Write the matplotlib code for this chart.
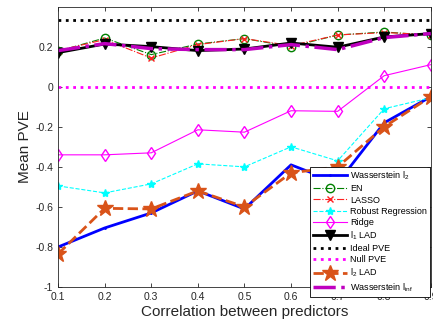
import matplotlib
matplotlib.use('Agg')
import matplotlib.pyplot as plt

plt.rcParams['font.family'] = ['Liberation Sans', 'DejaVu Sans']
plt.rcParams['mathtext.default'] = 'regular'

# Данные
corr = [0.1, 0.2, 0.3, 0.4, 0.5, 0.6, 0.7, 0.8, 0.9]
wass_l2 = [-0.80, -0.705, -0.63, -0.52, -0.61, -0.39, -0.48, -0.18, -0.05]
en = [0.177, 0.243, 0.16, 0.213, 0.24, 0.20, 0.258, 0.273, 0.257]
lasso = [0.18, 0.235, 0.143, 0.21, 0.24, 0.205, 0.258, 0.27, 0.26]
robust = [-0.495, -0.53, -0.485, -0.385, -0.40, -0.30, -0.37, -0.11, -0.055]
ridge = [-0.34, -0.34, -0.33, -0.215, -0.227, -0.12, -0.123, 0.055, 0.11]
l1_lad = [0.17, 0.213, 0.20, 0.18, 0.188, 0.218, 0.197, 0.248, 0.265]
ideal_pve = [0.333] * len(corr)
null_pve = [0.0] * len(corr)
l2_lad = [-0.835, -0.607, -0.61, -0.52, -0.60, -0.43, -0.40, -0.20, -0.05]
wass_linf = [0.18, 0.215, 0.19, 0.185, 0.185, 0.21, 0.185, 0.245, 0.265]

fig = plt.figure(figsize=(4.33, 3.30), dpi=100)
ax = fig.add_axes([0.134, 0.13, 0.861, 0.849])

ax.plot(corr, wass_l2, '-', color='#0000ff', lw=2, marker='.', ms=2, label=r'Wasserstein l$_2$')
ax.plot(corr, en, '-.', color='#008000', lw=0.8, marker='o', ms=6, mfc='none', label='EN')
ax.plot(corr, lasso, '-.', color='#ff2020', lw=0.8, marker='x', ms=5, label='LASSO')
ax.plot(corr, robust, '--', color='#00ffff', lw=0.8, marker='*', ms=6, label='Robust Regression')
ax.plot(corr, ridge, '-', color='#ff00ff', lw=0.8, marker='d', ms=6, mfc='none', label='Ridge')
ax.plot(corr, l1_lad, '-', color='black', lw=2, marker='v', ms=7, label=r'l$_1$ LAD')
ax.plot(corr, ideal_pve, ':', color='black', lw=2, label='Ideal PVE')
ax.plot(corr, null_pve, ':', color='#ff00ff', lw=2, label='Null PVE')
ax.plot(corr, l2_lad, '--', color='#d95319', lw=2, marker='*', ms=12, label=r'l$_2$ LAD')
ax.plot(corr, wass_linf, '-.', color='#bf00bf', lw=2.5, label=r'Wasserstein l$_{inf}$')

ax.set_xlim(0.1, 0.9)
ax.set_ylim(-1, 0.398)
ax.set_xticks(corr)
ax.set_xticklabels(['0.1', '0.2', '0.3', '0.4', '0.5', '0.6', '0.7', '0.8', '0.9'])
ax.set_yticks([-1, -0.8, -0.6, -0.4, -0.2, 0, 0.2])
ax.set_yticklabels(['-1', '-0.8', '-0.6', '-0.4', '-0.2', '0', '0.2'])
ax.tick_params(direction='in', top=True, right=True, labelsize=7.5,
               colors='#262626', length=3, width=0.6)
for s in ax.spines.values():
    s.set_color('#262626')
    s.set_linewidth(0.6)

ax.set_xlabel('Correlation between predictors', fontsize=11, color='#262626', labelpad=2)
ax.set_ylabel('Mean PVE', fontsize=11, color='#262626', labelpad=2)

leg = ax.legend(loc='upper left', bbox_to_anchor=(0.677, 0.429), borderaxespad=0,
                fontsize=6.5, handlelength=3.8, labelspacing=0.25, borderpad=0.3,
                handletextpad=0.3, fancybox=False, framealpha=1, edgecolor='black')
leg.get_frame().set_linewidth(0.6)

fig.savefig('out.png', dpi=100)
